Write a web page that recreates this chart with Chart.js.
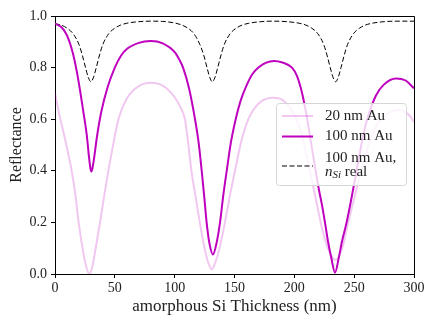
<!DOCTYPE html>
<html>
<head>
<meta charset="utf-8">
<script src="https://cdn.jsdelivr.net/npm/chart.js@4"></script>
<style>
  html, body { margin: 0; padding: 0; background: #fff; }
  #chart { display: block; }
</style>
</head>
<body>
<canvas id="chart" width="436" height="327"></canvas>
<script>
// thickness (nm) and reflectance
const au20X = [0, 4, 9, 13.9, 17, 19.5, 23, 26, 28.7, 31, 34, 37.6, 41, 44.6, 49, 53, 60, 70, 80, 90,
  100, 104.5, 108.6, 111.5, 114, 117.5, 121, 125, 128, 131, 134, 138, 142, 146, 150.4, 156, 161.6, 170, 182, 190,
  197, 205, 212, 218, 223, 228, 234.5, 240, 245, 252, 260, 268, 275, 282, 288, 295, 300];
const au20R = [0.700, 0.610, 0.510, 0.400, 0.310, 0.210, 0.100, 0.030, 0.000, 0.025, 0.100, 0.200, 0.300, 0.400, 0.510, 0.600, 0.680, 0.728, 0.741, 0.730,
  0.685, 0.650, 0.600, 0.500, 0.400, 0.300, 0.200, 0.100, 0.045, 0.018, 0.045, 0.110, 0.200, 0.300, 0.400, 0.520, 0.600, 0.660, 0.683, 0.675,
  0.640, 0.560, 0.420, 0.290, 0.180, 0.100, 0.054, 0.100, 0.200, 0.330, 0.470, 0.570, 0.610, 0.632, 0.636, 0.620, 0.590];

const au100X = [0, 5, 10, 15, 18, 21, 24, 26.5, 28.5, 29.5, 30.3, 31.3, 33, 35, 38.5, 44, 50, 55, 60, 70,
  80, 90, 100, 104, 107, 112, 117, 120, 122.6, 124.7, 126.7, 129, 132, 135, 137.9, 140.5, 143.5, 147, 151, 155,
  160, 165, 170, 176, 183, 190, 198, 202, 206, 210, 215, 220, 223, 225.6, 228, 231, 234, 237, 240, 243.7,
  248, 252, 256, 260, 268, 275, 285, 293, 300];
const au100R = [0.970, 0.958, 0.925, 0.855, 0.790, 0.710, 0.620, 0.540, 0.450, 0.412, 0.397, 0.410, 0.460, 0.530, 0.625, 0.725, 0.800, 0.845, 0.872, 0.896,
  0.903, 0.894, 0.860, 0.830, 0.800, 0.720, 0.600, 0.510, 0.400, 0.300, 0.200, 0.120, 0.076, 0.120, 0.200, 0.300, 0.400, 0.510, 0.600, 0.670,
  0.730, 0.775, 0.800, 0.818, 0.826, 0.820, 0.800, 0.770, 0.710, 0.620, 0.480, 0.340, 0.270, 0.200, 0.130, 0.060, 0.005, 0.060, 0.130, 0.200,
  0.300, 0.400, 0.500, 0.585, 0.690, 0.735, 0.758, 0.750, 0.720];

const realX = [0, 5, 10, 15, 20, 23, 25.5, 28, 30, 32, 34.5, 37, 40, 45, 50, 55, 60, 70, 80, 90,
  100, 106, 111, 116, 121, 124.5, 127, 129.5, 131.5, 133.5, 136, 138.5, 141.5, 146.5, 151.5, 156.5, 162, 172, 182, 194,
  204, 209.5, 214.5, 219.5, 224.5, 227.5, 230, 232.5, 234.5, 236.5, 239, 241.5, 244.5, 249.5, 254.5, 259.5, 265, 275, 285, 300];
const realR = [0.970, 0.965, 0.953, 0.932, 0.890, 0.845, 0.800, 0.760, 0.745, 0.760, 0.800, 0.845, 0.890, 0.932, 0.953, 0.965, 0.972, 0.978, 0.980, 0.979,
  0.973, 0.965, 0.953, 0.932, 0.890, 0.845, 0.800, 0.760, 0.745, 0.760, 0.800, 0.845, 0.890, 0.932, 0.953, 0.965, 0.972, 0.978, 0.980, 0.978,
  0.972, 0.965, 0.953, 0.932, 0.890, 0.845, 0.800, 0.760, 0.745, 0.760, 0.800, 0.845, 0.890, 0.932, 0.953, 0.965, 0.972, 0.978, 0.980, 0.980];

const xTicks = [0, 50, 100, 150, 200, 250, 300];
const yTicks = [0.0, 0.2, 0.4, 0.6, 0.8, 1.0];

const PINK = 'rgba(191, 0, 191, 0.22)';
const MAGENTA = '#bf00bf';
const SERIF = '"Liberation Serif", "DejaVu Serif", serif';

function pts(xs, ys) {
  return xs.map((x, i) => ({ x: x, y: ys[i] }));
}

// top/right spines and the legend box (two-line label with subscript)
const frameAndKey = {
  id: 'frameAndKey',
  afterDraw(chart) {
    const ctx = chart.ctx;
    const a = chart.chartArea;
    ctx.save();
    ctx.strokeStyle = '#000';
    ctx.lineWidth = 1;
    ctx.beginPath();
    ctx.moveTo(a.left, a.top + 0.5);
    ctx.lineTo(a.right + 0.5, a.top + 0.5);
    ctx.lineTo(a.right + 0.5, a.bottom);
    ctx.stroke();

    // legend
    const bx = 276.5, by = 103.5, bw = 130, bh = 82, r = 3;
    ctx.beginPath();
    ctx.roundRect(bx, by, bw, bh, r);
    ctx.fillStyle = 'rgba(255,255,255,0.8)';
    ctx.fill();
    ctx.strokeStyle = '#d6d6d6';
    ctx.stroke();

    const x0 = 282, x1 = 313, tx = 325;
    const rows = [
      { y: 116, color: PINK, width: 2, dash: [] },
      { y: 136.5, color: MAGENTA, width: 2, dash: [] },
      { y: 166, color: '#000', width: 1, dash: [5, 2.5] }
    ];
    rows.forEach(row => {
      ctx.beginPath();
      ctx.setLineDash(row.dash);
      ctx.strokeStyle = row.color;
      ctx.lineWidth = row.width;
      ctx.moveTo(x0, row.y);
      ctx.lineTo(x1, row.y);
      ctx.stroke();
    });
    ctx.setLineDash([]);

    ctx.fillStyle = '#222';
    ctx.textBaseline = 'middle';
    ctx.textAlign = 'left';
    ctx.font = '15px ' + SERIF;
    ctx.fillText('20 nm Au', tx, 116);
    ctx.fillText('100 nm Au', tx, 136.5);
    ctx.fillText('100 nm Au,', tx, 158);
    ctx.font = 'italic 15px ' + SERIF;
    ctx.fillText('n', tx, 172);
    let w = ctx.measureText('n').width;
    ctx.font = 'italic 11px ' + SERIF;
    ctx.fillText('Si', tx + w, 175);
    w += ctx.measureText('Si').width;
    ctx.font = '15px ' + SERIF;
    ctx.fillText(' real', tx + w, 172);
    ctx.restore();
  }
};

const ctx = document.getElementById('chart');
const chart = new Chart(ctx, {
  type: 'line',
  data: {
    datasets: [
      {
        label: '20 nm Au',
        data: pts(au20X, au20R),
        borderColor: PINK,
        borderWidth: 2,
        pointRadius: 0,
        cubicInterpolationMode: 'monotone'
      },
      {
        label: '100 nm Au',
        data: pts(au100X, au100R),
        borderColor: MAGENTA,
        borderWidth: 2,
        pointRadius: 0,
        cubicInterpolationMode: 'monotone'
      },
      {
        label: '100 nm Au, nSi real',
        data: pts(realX, realR),
        borderColor: '#000',
        borderWidth: 1,
        borderDash: [5, 2.5],
        pointRadius: 0,
        cubicInterpolationMode: 'monotone'
      }
    ]
  },
  options: {
    responsive: false,
    animation: false,
    devicePixelRatio: 1,
    layout: { padding: { top: 16, right: 22, left: 0, bottom: 0 } },
    plugins: {
      legend: { display: false },
      tooltip: { enabled: false }
    },
    scales: {
      x: {
        type: 'linear',
        min: 0,
        max: 300,
        afterFit: s => { s.height = 53; },
        afterBuildTicks: s => { s.ticks = xTicks.map(v => ({ value: v })); },
        ticks: {
          color: '#222',
          font: { family: SERIF, size: 14 },
          padding: 2,
          maxRotation: 0,
          callback: v => String(v)
        },
        grid: { drawOnChartArea: false, drawTicks: true, tickLength: 4, color: '#000' },
        border: { display: true, color: '#000', width: 1 },
        title: {
          display: true,
          text: 'amorphous Si Thickness (nm)',
          color: '#222',
          font: { family: SERIF, size: 17 },
          padding: { top: 0, bottom: 10 }
        }
      },
      y: {
        min: 0,
        max: 1,
        afterFit: s => { s.width = 55; },
        afterBuildTicks: s => { s.ticks = yTicks.map(v => ({ value: v })); },
        ticks: {
          color: '#222',
          font: { family: SERIF, size: 14 },
          padding: 4,
          callback: v => Number(v).toFixed(1)
        },
        grid: { drawOnChartArea: false, drawTicks: true, tickLength: 4, color: '#000' },
        border: { display: true, color: '#000', width: 1 },
        title: {
          display: true,
          text: 'Reflectance',
          color: '#222',
          font: { family: SERIF, size: 16 },
          padding: { top: 7, bottom: 0 }
        }
      }
    }
  },
  plugins: [frameAndKey]
});
</script>
</body>
</html>
